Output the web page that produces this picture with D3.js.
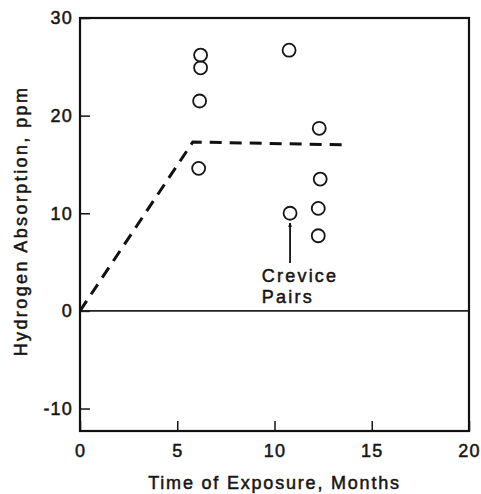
<!DOCTYPE html>
<html>
<head>
<meta charset="utf-8">
<script src="https://cdn.jsdelivr.net/npm/d3@7"></script>
<style>
  body { margin: 0; background: #fff; }
  svg { display: block; }
  text { font-family: "Liberation Sans", Arial, sans-serif; fill: #151515; stroke: #151515; stroke-width: 0.5px; }
  .tick text { font-size: 18px; letter-spacing: 1.2px; }
  .axis-label { font-size: 18px; }
  .note { font-size: 18px; letter-spacing: 2.2px; }
</style>
</head>
<body>
<div id="vis"></div>
<script>
const W = 481, H = 494;
const margin = { top: 18, right: 12, bottom: 63, left: 80 };
const width = W - margin.left - margin.right;
const height = H - margin.top - margin.bottom;

// data
const months = [6.2, 6.2, 6.15, 6.1, 10.75, 12.3, 12.35, 10.8, 12.25, 12.25];
const hydrogen = [26.2, 24.9, 21.5, 14.6, 26.7, 18.7, 13.5, 10.0, 10.5, 7.7];
const trendMonths = [0, 5.8, 13.7];
const trendHydrogen = [0, 17.3, 17.0];
const xTicks = [0, 5, 10, 15, 20];
const yTicks = [-10, 0, 10, 20, 30];

const svg = d3.select("#vis")
    .append("svg")
    .attr("width", W)
    .attr("height", H)
    .append("g")
    .attr("transform", `translate(${margin.left},${margin.top})`);

const x = d3.scaleLinear().domain([0, 20]).range([0, width]);
const y = d3.scaleLinear().domain([-12.3, 30]).range([height, 0]);

// axes, ticks point inward, plain hyphen for negatives
svg.append("g")
    .attr("class", "axis x-axis")
    .attr("transform", `translate(0,${height})`)
    .call(d3.axisBottom(x).tickValues(xTicks).tickFormat(d => String(d))
        .tickSizeInner(-10).tickSizeOuter(0).tickPadding(13))
    .call(g => g.select(".domain").remove())
    .call(g => g.selectAll(".tick line").attr("stroke", "#151515").attr("stroke-width", 1.5));

svg.append("g")
    .attr("class", "axis y-axis")
    .call(d3.axisLeft(y).tickValues(yTicks).tickFormat(d => String(d))
        .tickSizeInner(-10).tickSizeOuter(0).tickPadding(7))
    .call(g => g.select(".domain").remove())
    .call(g => g.selectAll(".tick line").attr("stroke", "#151515").attr("stroke-width", 1.5));

svg.selectAll(".tick text").attr("fill", "#151515").attr("font-family", null).attr("font-size", null);

// zero line
svg.append("line")
    .attr("x1", 0).attr("x2", width)
    .attr("y1", y(0)).attr("y2", y(0))
    .attr("stroke", "#222")
    .attr("stroke-width", 1.6);

// frame
svg.append("rect")
    .attr("width", width)
    .attr("height", height)
    .attr("fill", "none")
    .attr("stroke", "#111")
    .attr("stroke-width", 2.2);

// dashed trend
const trend = trendMonths.map((m, i) => [m, trendHydrogen[i]]);
svg.append("path")
    .datum(trend)
    .attr("fill", "none")
    .attr("stroke", "#111")
    .attr("stroke-width", 3)
    .attr("stroke-dasharray", "12,8")
    .attr("d", d3.line().x(d => x(d[0])).y(d => y(d[1])));

// points
const points = months.map((m, i) => ({ m, h: hydrogen[i] }));
svg.selectAll(".pt")
    .data(points)
    .enter()
    .append("circle")
    .attr("class", "pt")
    .attr("cx", d => x(d.m))
    .attr("cy", d => y(d.h))
    .attr("r", 6.5)
    .attr("fill", "none")
    .attr("stroke", "#151515")
    .attr("stroke-width", 1.8);

// crevice pairs annotation
svg.append("defs").append("marker")
    .attr("id", "arrow")
    .attr("viewBox", "0 0 10 10")
    .attr("refX", 9).attr("refY", 5)
    .attr("markerWidth", 4).attr("markerHeight", 6)
    .attr("markerUnits", "userSpaceOnUse")
    .attr("orient", "auto")
    .append("path")
    .attr("d", "M0,0L10,5L0,10Z")
    .attr("fill", "#111");

svg.append("line")
    .attr("x1", x(10.8)).attr("x2", x(10.8))
    .attr("y1", y(4.9)).attr("y2", y(9.0))
    .attr("stroke", "#111")
    .attr("stroke-width", 1.8)
    .attr("marker-end", "url(#arrow)");

const note = svg.append("text")
    .attr("class", "note")
    .attr("x", x(9.35))
    .attr("y", y(2.96));
note.append("tspan").text("Crevice");
note.append("tspan").attr("x", x(9.35)).attr("dy", 20.5).text("Pairs");

// axis titles
svg.append("text")
    .attr("class", "axis-label")
    .attr("x", width / 2)
    .attr("y", height + 58)
    .attr("text-anchor", "middle")
    .style("letter-spacing", "1.8px")
    .text("Time of Exposure, Months");

svg.append("text")
    .attr("class", "axis-label")
    .attr("transform", "rotate(-90)")
    .attr("x", -(221 - margin.top))
    .attr("y", 27 - margin.left)
    .attr("text-anchor", "middle")
    .style("letter-spacing", "2.4px")
    .text("Hydrogen Absorption, ppm");
</script>
</body>
</html>
